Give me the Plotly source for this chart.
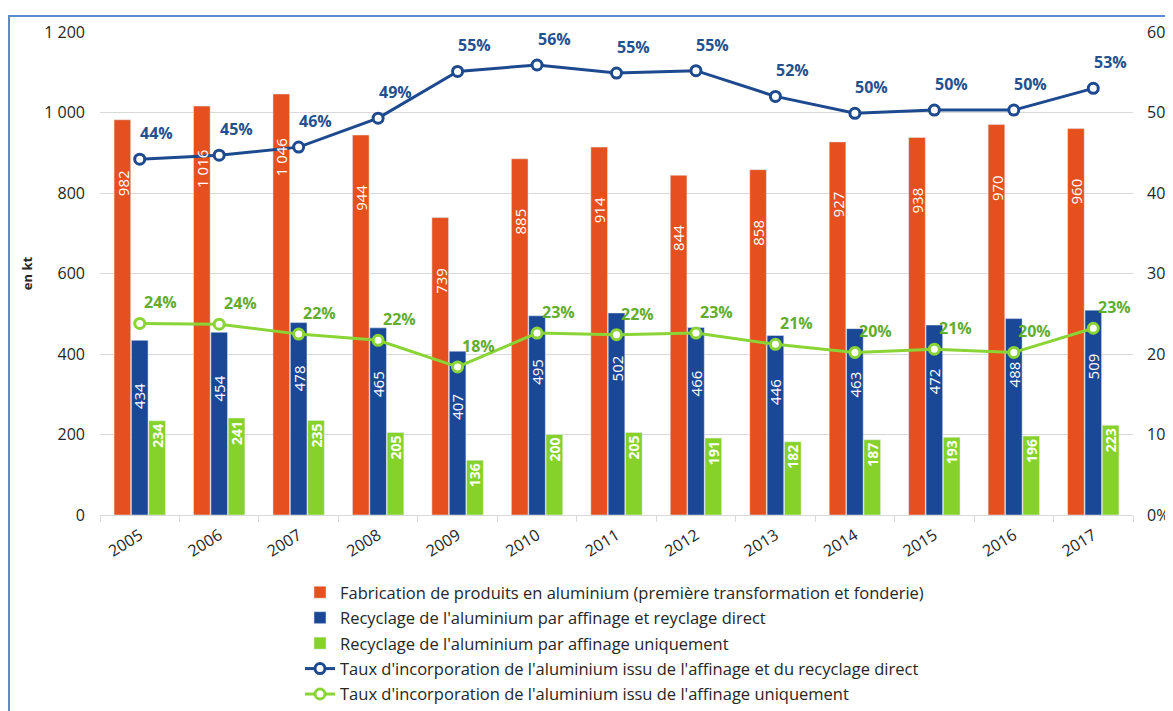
import plotly.graph_objects as go

# data
years = ["2005", "2006", "2007", "2008", "2009", "2010", "2011",
         "2012", "2013", "2014", "2015", "2016", "2017"]
fabrication = [982, 1016, 1046, 944, 739, 885, 914, 844, 858, 927, 938, 970, 960]
recyclage_total = [434, 454, 478, 465, 407, 495, 502, 466, 446, 463, 472, 488, 509]
recyclage_affinage = [234, 241, 235, 205, 136, 200, 205, 191, 182, 187, 193, 196, 223]
taux_total = [0.442, 0.447, 0.457, 0.493, 0.551, 0.559, 0.549, 0.552, 0.520,
              0.499, 0.503, 0.503, 0.530]
taux_affinage = [0.238, 0.237, 0.2247, 0.217, 0.184, 0.226, 0.224, 0.226, 0.212,
                 0.202, 0.206, 0.202, 0.232]

noms = [
    "Fabrication de produits en aluminium (première transformation et fonderie)",
    "Recyclage de l'aluminium par affinage et reyclage direct",
    "Recyclage de l'aluminium par affinage uniquement",
    "Taux d'incorporation de l'aluminium issu de l'affinage et du recyclage direct",
    "Taux d'incorporation de l'aluminium issu de l'affinage uniquement",
]

ORANGE = "#E5501E"
BLEU = "#1B4896"
VERT = "#86D22A"
BLEU_LIGNE = "#1D4A8E"
VERT_LIGNE = "#8AD436"
BLEU_TXT = "#24508F"
VERT_TXT = "#62AC2E"
FONT = "Open Sans, Noto Sans, sans-serif"
BARGAP = 0.345
SLOT = (1 - BARGAP) / 3

# page body has an 8px margin, so the figure is drawn 8px in from the window edge
W, H = 1165, 703
L, T, PW, PH = 92, 24, 1033, 483

fig = go.Figure()

fig.add_trace(go.Bar(x=years, y=fabrication, name=noms[0], marker_color=ORANGE,
                     legendgroup="a"))
fig.add_trace(go.Bar(x=years, y=recyclage_total, name=noms[1], marker_color=BLEU,
                     legendgroup="b"))
fig.add_trace(go.Bar(
    x=years, y=recyclage_affinage, name=noms[2], marker_color=VERT, legendgroup="c",
    texttemplate="<b>%{y}</b>", textposition="inside", insidetextanchor="end",
    textangle=-90, constraintext="none",
    insidetextfont=dict(color="white", size=14, family=FONT),
))

for vals, nom, col, grp in [(taux_total, noms[3], BLEU_LIGNE, "d"),
                            (taux_affinage, noms[4], VERT_LIGNE, "e")]:
    fig.add_trace(go.Scatter(
        x=years, y=vals, name=nom, yaxis="y2", mode="lines+markers",
        line=dict(color=col, width=3), legendgroup=grp,
        marker=dict(symbol="circle", size=10, color="white",
                    line=dict(color=col, width=3)),
    ))

annotations = []
# labels inside orange and blue bars (white, vertical)
for serie, slot_off, dy in [(fabrication, -SLOT, -63), (recyclage_total, 0, -56)]:
    for i, v in enumerate(serie):
        annotations.append(dict(
            x=i + slot_off, y=v, xref="x", yref="y", yshift=dy,
            text=f"{v:,}".replace(",", " "), showarrow=False, textangle=-90,
            xanchor="center", yanchor="middle",
            font=dict(color="white", size=15, family=FONT),
        ))
# percentage labels above the rate lines
for serie, col, dx, dy in [(taux_total, BLEU_TXT, 17, 26), (taux_affinage, VERT_TXT, 21, 21)]:
    for i, v in enumerate(serie):
        annotations.append(dict(
            x=i, y=v, xref="x", yref="y2", xshift=dx, yshift=dy,
            text=f"<b>{v:.0%}</b>", showarrow=False,
            xanchor="center", yanchor="middle",
            font=dict(color=col, size=16, family=FONT),
        ))

fig.update_layout(
    width=W, height=H,
    margin=dict(l=L, r=W - L - PW, t=T, b=H - T - PH, autoexpand=False),
    paper_bgcolor="white", plot_bgcolor="white",
    font=dict(family=FONT, color="#262626", size=15),
    separators=", ",
    barmode="group", bargap=BARGAP, bargroupgap=0.04,
    xaxis=dict(type="category", range=[-0.5, len(years) - 0.5],
               tickangle=-32, tickfont=dict(size=16), ticklabelstandoff=4,
               showline=True, linecolor="#D9D9D9", linewidth=1,
               ticks="outside", tickson="boundaries", ticklen=6, tickcolor="#D9D9D9"),
    yaxis=dict(range=[0, 1200], dtick=200, tickformat=",d", showgrid=True,
               gridcolor="#D9D9D9", zeroline=False, tickfont=dict(size=16),
               ticklabelstandoff=14,
               title=dict(text="<b>en kt</b>", font=dict(size=13), standoff=8)),
    yaxis2=dict(range=[0, 0.6], dtick=0.1, tickformat=".0%", overlaying="y",
                side="right", showgrid=False, zeroline=False,
                tickfont=dict(size=16), ticklabelstandoff=13),
    legend=dict(orientation="v", x=(292 - L) / PW, y=-(567 - T - PH) / PH,
                xanchor="left", yanchor="top",
                font=dict(size=16.5), tracegroupgap=1, traceorder="grouped",
                bgcolor="rgba(0,0,0,0)"),
    annotations=annotations,
    shapes=[dict(type="rect", xref="paper", yref="paper",
                 x0=-(L - 1) / PW, x1=1.2, y0=-0.6, y1=1 + 16 / PH,
                 line=dict(color="#5A8AD2", width=2), fillcolor="rgba(0,0,0,0)",
                 layer="below")],
)

fig.write_html("out.html")
